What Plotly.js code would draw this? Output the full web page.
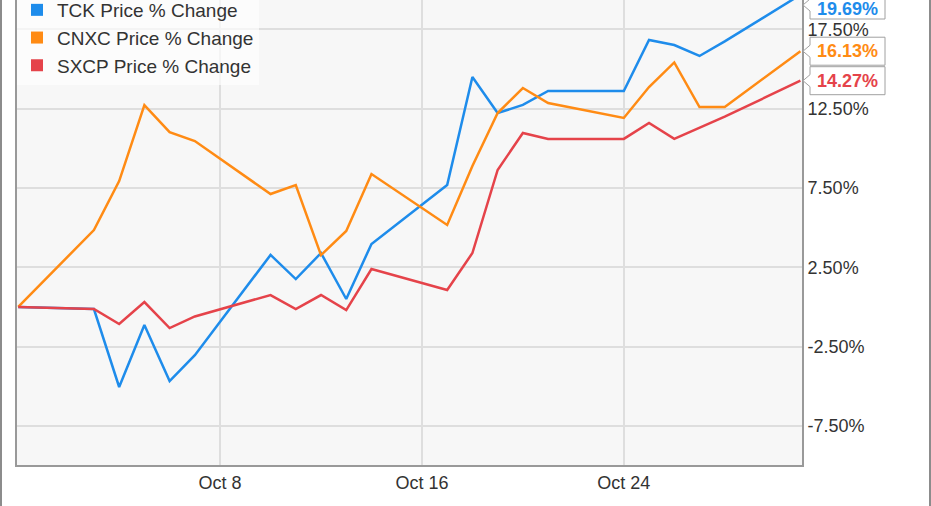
<!DOCTYPE html>
<html>
<head>
<meta charset="utf-8">
<script src="https://cdn.plot.ly/plotly-3.0.1.min.js"></script>
<style>
  html, body { margin: 0; padding: 0; background: #ffffff; }
  #wrap { position: relative; width: 931px; height: 506px; }
  #chart { width: 931px; height: 506px; }
  .frame { position: absolute; top: 0; width: 2px; height: 506px; background: #8c8c8c; }
</style>
</head>
<body>
<div id="wrap">
  <div id="chart"></div>
  <div class="frame" style="left:0px"></div>
  <div class="frame" style="left:929px"></div>
</div>
<script>
// ---- data ----
const dates = ['2016-09-30','2016-10-03','2016-10-04','2016-10-05','2016-10-06','2016-10-07',
  '2016-10-10','2016-10-11','2016-10-12','2016-10-13','2016-10-14',
  '2016-10-17','2016-10-18','2016-10-19','2016-10-20','2016-10-21',
  '2016-10-24','2016-10-25','2016-10-26','2016-10-27','2016-10-28','2016-10-31'];
const seriesNames = ['TCK Price % Change', 'CNXC Price % Change', 'SXCP Price % Change'];
const tck  = [0, -0.13, -5.05, -1.14, -4.68, -3.04, 3.28, 1.76, 3.40, 0.50, 3.97,
              7.69, 14.50, 12.23, 12.74, 13.62, 13.62, 16.84, 16.52, 15.83, 16.75, 19.69];
const cnxc = [0, 4.85, 7.94, 12.73, 11.03, 10.46, 7.12, 7.69, 3.27, 4.79, 8.38,
              5.17, 8.89, 12.23, 13.81, 12.86, 11.92, 13.87, 15.42, 12.61, 12.61, 16.13];
const sxcp = [0, -0.13, -1.08, 0.31, -1.33, -0.60, 0.75, -0.13, 0.75, -0.20, 2.39,
              1.07, 3.40, 8.64, 10.97, 10.60, 10.60, 11.60, 10.60, 11.28, 12.00, 14.27];
const yTickVals = [-7.5, -2.5, 2.5, 7.5, 12.5, 17.5];
const yTickText = ['-7.50%', '-2.50%', '2.50%', '7.50%', '12.50%', '17.50%'];
const xTickVals = ['2016-10-08', '2016-10-16', '2016-10-24'];
const xTickText = ['Oct 8', 'Oct 16', 'Oct 24'];

// ---- styling ----
const colors = ['#1e8ceb', '#ff8b14', '#e5434a'];
const allSeries = [tck, cnxc, sxcp];
const FONT = '"Liberation Sans", Arial, sans-serif';
const yRange = [-9.97, 19.36];
const xRange = ['2016-09-29 22:50', '2016-10-31 01:30'];
const plotW = 785, plotH = 465;

const traces = [];
allSeries.forEach((s, i) => {
  traces.push({
    x: dates, y: s, type: 'scatter', mode: 'lines', name: seriesNames[i],
    line: { color: colors[i], width: 2.5 }, showlegend: false, hoverinfo: 'x+y'
  });
});
allSeries.forEach((s, i) => {
  traces.push({
    x: [null], y: [null], type: 'scatter', mode: 'markers', name: seriesNames[i],
    marker: { color: colors[i], symbol: 'square', size: 12 },
    showlegend: true, legendgroup: 'g' + i
  });
});

// end-value callouts
const shapes = [];
const annotations = [];
const px = v => v / plotW, py = v => v / plotH;
allSeries.forEach((s, i) => {
  const v = s[s.length - 1];
  const frac = (v - yRange[0]) / (yRange[1] - yRange[0]);
  const yc = Math.min(frac, 1 - py(5));
  const yt = Math.min(frac, 1 - py(9));
  const tip = 1 + px(1), base = 1 + px(8), right = 1 + px(83);
  const hh = py(14), nh = py(6);
  shapes.push({
    type: 'path', xref: 'paper', yref: 'paper', layer: 'above',
    path: `M ${tip} ${yc} L ${base} ${yc + nh} L ${base} ${yc + hh} L ${right} ${yc + hh} ` +
          `L ${right} ${yc - hh} L ${base} ${yc - hh} L ${base} ${yc - nh} Z`,
    fillcolor: '#ffffff', line: { color: '#a0a0a0', width: 1 }
  });
  annotations.push({
    xref: 'paper', yref: 'paper', x: 1 + px(45.5), y: yt, xanchor: 'center', yanchor: 'middle',
    text: '<b>' + v.toFixed(2) + '%</b>', showarrow: false,
    font: { family: FONT, size: 18, color: colors[i] }
  });
});

const layout = {
  width: 931, height: 506,
  margin: { l: 17, r: 129, t: 0, b: 41, pad: 0, autoexpand: false },
  paper_bgcolor: '#ffffff', plot_bgcolor: '#f7f7f7',
  font: { family: FONT, size: 18, color: '#333333' },
  showlegend: true,
  legend: {
    x: 0, y: 1 + 9 / plotH, xanchor: 'left', yanchor: 'top',
    bgcolor: 'rgba(255,255,255,0.65)', borderwidth: 0,
    font: { family: FONT, size: 19, color: '#333333' },
    traceorder: 'grouped', tracegroupgap: 0, itemwidth: 30
  },
  xaxis: {
    type: 'date', range: xRange, tickmode: 'array', tickvals: xTickVals, ticktext: xTickText,
    showgrid: true, gridcolor: '#dedede', gridwidth: 2,
    showline: true, linecolor: '#999999', linewidth: 2, mirror: false,
    ticks: '', zeroline: false, fixedrange: true,
    tickfont: { family: FONT, size: 18, color: '#333333' }
  },
  yaxis: {
    side: 'right', range: yRange, tickmode: 'array', tickvals: yTickVals, ticktext: yTickText,
    showgrid: true, gridcolor: '#dedede', gridwidth: 2,
    showline: true, linecolor: '#999999', linewidth: 2, mirror: true,
    ticks: '', zeroline: false, fixedrange: true, ticklabelstandoff: 0,
    tickfont: { family: FONT, size: 18, color: '#333333' }
  },
  shapes: shapes,
  annotations: annotations
};

Plotly.newPlot('chart', traces, layout, { displayModeBar: false, staticPlot: true });
</script>
</body>
</html>
